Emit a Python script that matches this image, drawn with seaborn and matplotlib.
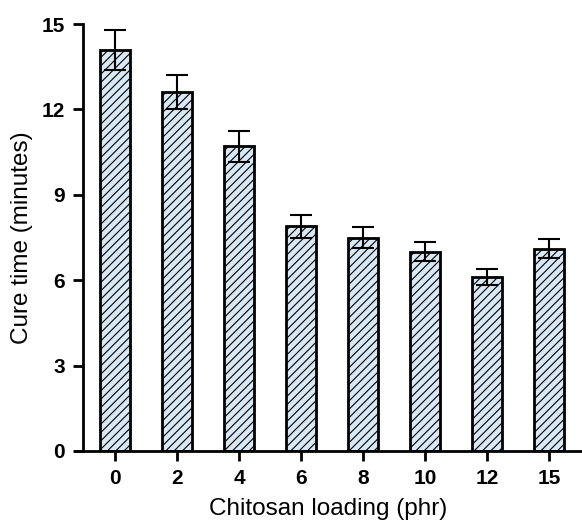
import matplotlib
matplotlib.use("Agg")
import matplotlib.pyplot as plt
import seaborn as sns
import pandas as pd

loading = ["0", "2", "4", "6", "8", "10", "12", "15"]
cure_time = [14.1, 12.6, 10.7, 7.9, 7.5, 7.0, 6.1, 7.1]
cure_err = [0.7, 0.6, 0.55, 0.4, 0.37, 0.34, 0.28, 0.33]

sns.set_theme(style="ticks")
plt.rcParams["font.family"] = ["Liberation Sans", "DejaVu Sans"]
plt.rcParams["hatch.color"] = "#3a3a3a"
plt.rcParams["hatch.linewidth"] = 0.8
plt.rcParams["text.color"] = "black"
plt.rcParams["axes.labelcolor"] = "black"

df = pd.DataFrame({"loading": loading, "cure": cure_time})

fig = plt.figure(figsize=(5.82, 5.24), dpi=100)
ax = fig.add_axes([75 / 582, 1 - 451 / 524, (582 - 75) / 582, (451 - 24) / 524])

sns.barplot(data=df, x="loading", y="cure", ax=ax, color="#d8e8f4",
            width=0.49, edgecolor="black", linewidth=2, hatch="////",
            saturation=1, errorbar=None)

xs = range(len(loading))
ax.errorbar(xs, cure_time, yerr=cure_err, fmt="none", ecolor="black",
            elinewidth=1.5, capsize=8, capthick=1.5, zorder=5)

ax.set_ylim(0, 15)
ax.set_xlim(-0.645, 7.53)
ax.set_yticks([0, 3, 6, 9, 12, 15])
ax.spines["left"].set_position(("data", -0.516))
ax.spines["top"].set_visible(False)
ax.spines["right"].set_visible(False)
for s in ("left", "bottom"):
    ax.spines[s].set_linewidth(2)
    ax.spines[s].set_color("black")
ax.tick_params(axis="both", direction="out", width=2, length=7,
               labelsize=15, colors="black", pad=6)
for lab in ax.get_xticklabels() + ax.get_yticklabels():
    lab.set_fontweight("bold")

ax.set_xlabel("Chitosan loading (phr)", fontsize=17.5, labelpad=7)
ax.set_ylabel("Cure time (minutes)", fontsize=17.5, labelpad=6)

fig.savefig("out.png", dpi=100)
